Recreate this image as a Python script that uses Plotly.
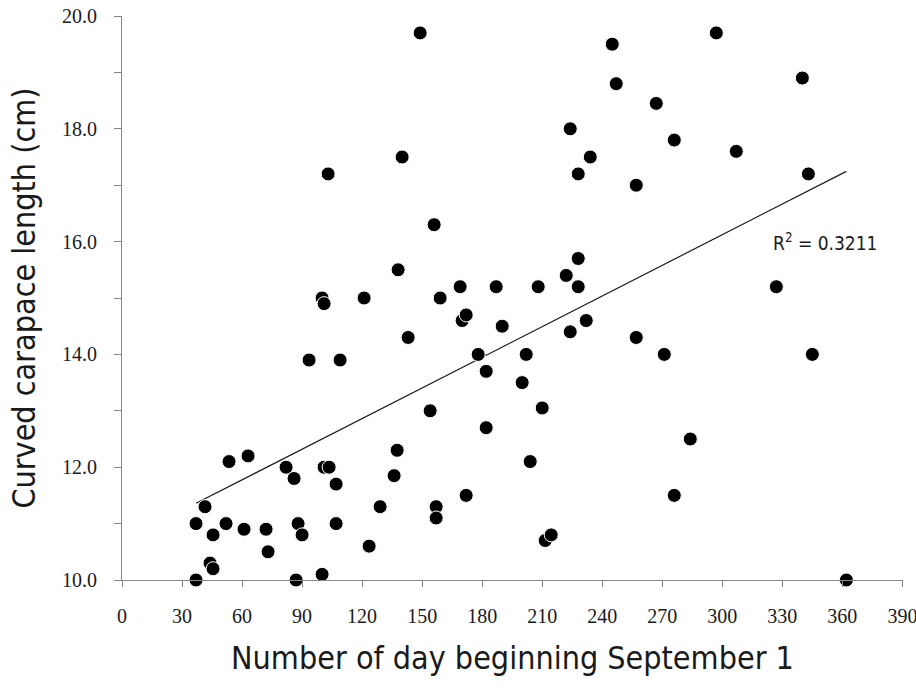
import numpy as np
import plotly.graph_objects as go

# Day number counted from September 1
days = [37, 37, 41.5, 44, 45.5, 45.5, 52, 53.5, 61, 63,
        72, 73, 82, 86, 87, 88, 90, 93.5, 100, 101,
        100, 101, 103.5, 103, 107, 107, 109, 121, 123.5, 129,
        136, 137.5, 138, 140, 143, 149, 154, 156, 157, 157,
        159, 169, 170, 172, 172, 178, 182, 182, 187, 190,
        200, 202, 204, 208, 210, 211.5, 214.5, 222, 224, 224,
        228, 228, 228, 232, 234, 245, 247, 257, 257, 267,
        271, 276, 276, 284, 297, 307, 327, 340, 343, 345, 362]

# Curved carapace length (cm)
ccl = [10.0, 11.0, 11.3, 10.3, 10.2, 10.8, 11.0, 12.1, 10.9, 12.2,
       10.9, 10.5, 12.0, 11.8, 10.0, 11.0, 10.8, 13.9, 15.0, 14.9,
       10.1, 12.0, 12.0, 17.2, 11.7, 11.0, 13.9, 15.0, 10.6, 11.3,
       11.85, 12.3, 15.5, 17.5, 14.3, 19.7, 13.0, 16.3, 11.3, 11.1,
       15.0, 15.2, 14.6, 14.7, 11.5, 14.0, 13.7, 12.7, 15.2, 14.5,
       13.5, 14.0, 12.1, 15.2, 13.05, 10.7, 10.8, 15.4, 18.0, 14.4,
       17.2, 15.7, 15.2, 14.6, 17.5, 19.5, 18.8, 17.0, 14.3, 18.45,
       14.0, 17.8, 11.5, 12.5, 19.7, 17.6, 15.2, 18.9, 17.2, 14.0, 10.0]

x_ticks = list(range(0, 391, 30))
x_tick_labels = [str(v) for v in x_ticks]
y_ticks = list(range(10, 21, 2))
y_tick_labels = [f"{v:.1f}" for v in y_ticks]
y_minor_ticks = list(range(11, 20, 2))
r2_label = "R<sup>2</sup> = 0.3211"

# Least-squares linear trend over the observed day range
slope, intercept = np.polyfit(days, ccl, 1)
trend_x = np.array([min(days), max(days)])
trend_y = slope * trend_x + intercept

AXIS_GREY = "#878787"
SANS = "Liberation Sans Narrow, DejaVu Sans Condensed, Arial Narrow, sans-serif"
SERIF = "Liberation Serif, DejaVu Serif, serif"

fig = go.Figure()

fig.add_trace(go.Scatter(
    x=trend_x, y=trend_y, mode="lines",
    line=dict(color="#1a1a1a", width=1.2),
    hoverinfo="skip", showlegend=False,
))

fig.add_trace(go.Scatter(
    x=days, y=ccl, mode="markers",
    marker=dict(size=14, color="black", line=dict(color="white", width=1)),
    cliponaxis=False, showlegend=False,
))

fig.add_annotation(
    x=324.5, y=16.0, xref="x", yref="y",
    text=r2_label, showarrow=False,
    xanchor="left", yanchor="middle",
    font=dict(family=SANS, size=19, color="#1a1a1a"),
)

fig.update_xaxes(
    range=[0, 390.3], tickmode="array", tickvals=x_ticks, ticktext=x_tick_labels,
    automargin=False,
    showgrid=False, zeroline=False,
    showline=True, linecolor=AXIS_GREY, linewidth=1,
    ticks="outside", ticklen=6, tickcolor=AXIS_GREY, tickwidth=1,
    ticklabelstandoff=12, ticklabeloverflow="allow",
    tickfont=dict(family=SERIF, size=20, color="#1a1a1a"),
    title=dict(text="Number of day beginning September 1",
               font=dict(family=SANS, size=32, color="#1a1a1a"), standoff=20),
)

fig.update_yaxes(
    range=[10, 20], tickmode="array", tickvals=y_ticks, ticktext=y_tick_labels,
    automargin=False,
    showgrid=False, zeroline=False,
    showline=True, linecolor=AXIS_GREY, linewidth=1,
    ticks="outside", ticklen=7, tickcolor=AXIS_GREY, tickwidth=1,
    minor=dict(tickmode="array", tickvals=y_minor_ticks, ticks="outside",
               ticklen=7, tickcolor=AXIS_GREY, tickwidth=1, showgrid=False),
    ticklabelstandoff=13, ticklabeloverflow="allow",
    tickfont=dict(family=SERIF, size=20, color="#1a1a1a"),
    title=dict(text="Curved carapace length (cm)",
               font=dict(family=SANS, size=32, color="#1a1a1a"), standoff=16),
)

fig.update_layout(
    width=916, height=688,
    margin=dict(l=122, r=13, t=16, b=108),
    paper_bgcolor="white", plot_bgcolor="white",
)

fig.write_html("out.html")
